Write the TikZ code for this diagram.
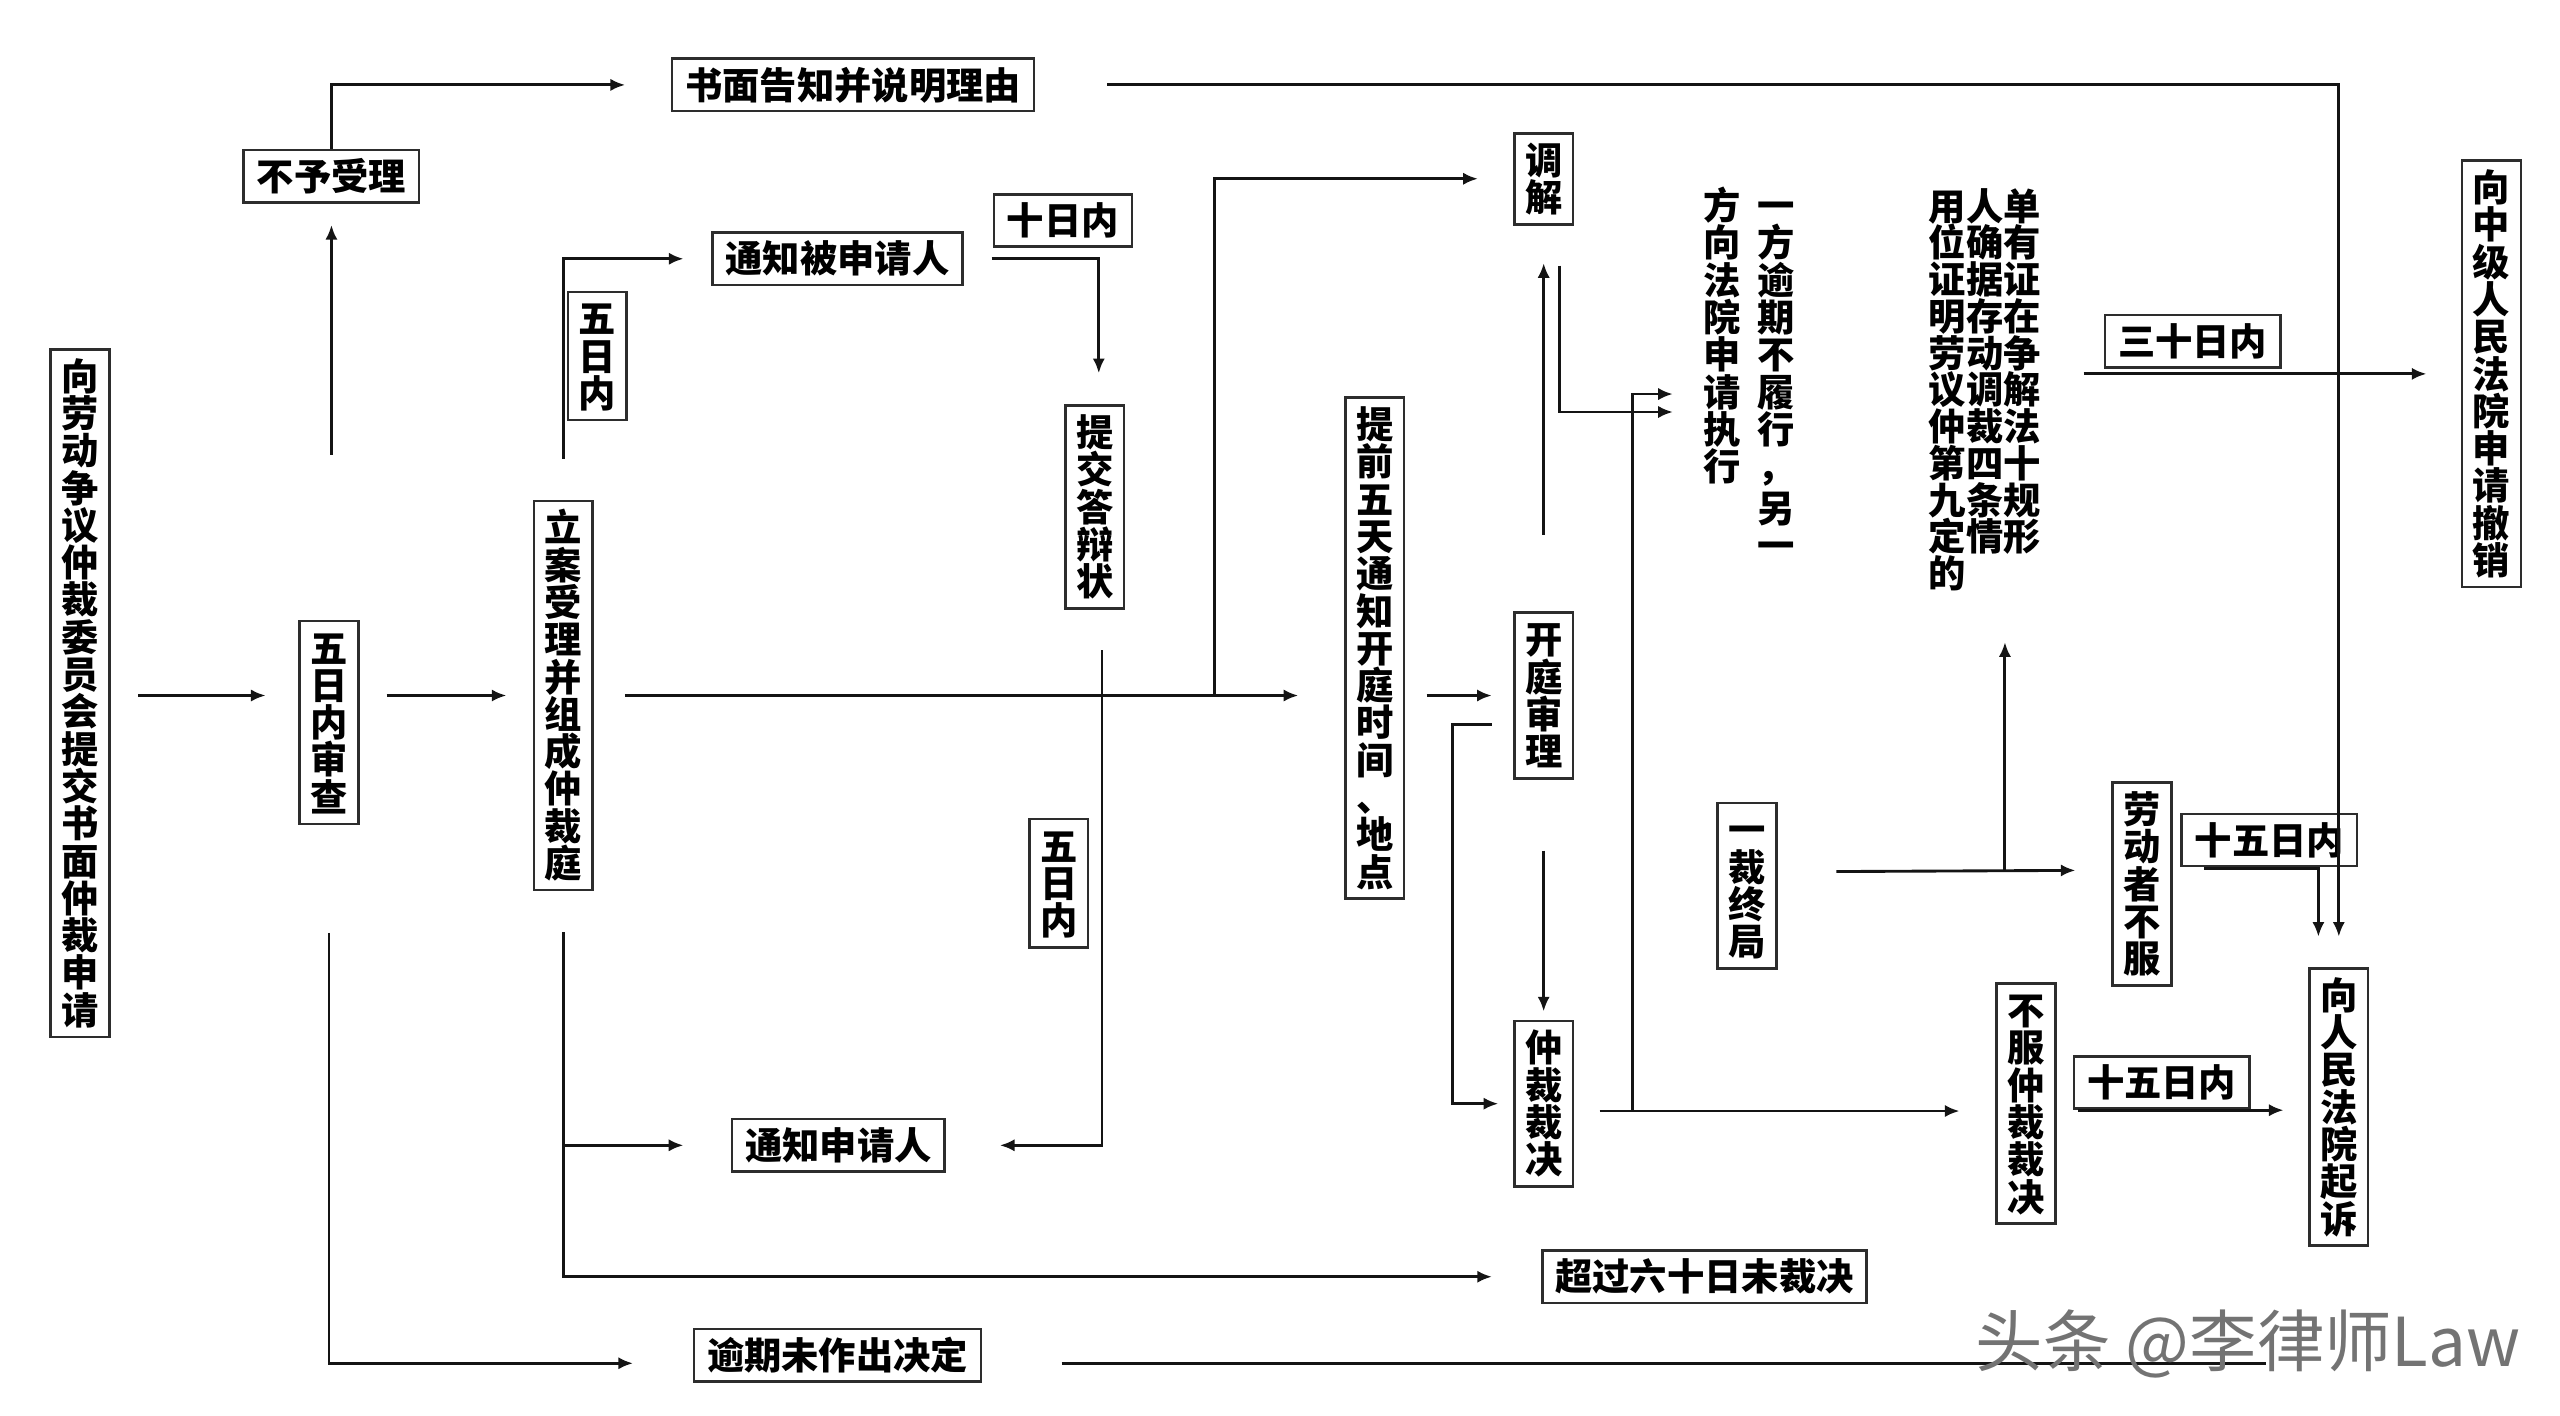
\documentclass[tikz,border=0pt]{standalone}
\usepackage{fontspec}
\setmainfont{Noto Sans CJK SC}
\usetikzlibrary{arrows.meta, positioning}
\definecolor{Encre}{RGB}{20,20,20}
\definecolor{Cadre}{RGB}{45,45,45}
\newcommand\cjkstrut{\rule[-0.12em]{0pt}{1em}}
\newcommand\shu[1]{\shuA#1\relax}
\def\shuA#1{\ifx\relax#1\else\cjkstrut#1\par\expandafter\shuA\fi}
\tikzset{kuang/.style={rectangle, draw=Cadre, line width=0.9pt,
  inner xsep=0.16cm, inner ysep=0.09cm, minimum height=0.64cm,
  font=\fontsize{13}{13}\selectfont\bfseries\parindent0pt}}
\tikzset{shukuang/.style={kuang, text width=0.46cm, align=center,
  inner xsep=0.13cm, inner ysep=0.1cm, minimum height=0pt}}
\tikzset{wen/.style={inner sep=0pt, font=\fontsize{13}{13}\selectfont\bfseries\parindent0pt}}
\tikzset{fl/.style={-{Latex[length=1.8mm, width=1.5mm]}, draw=Encre, line width=1pt}}
\tikzset{trait/.style={draw=Encre, line width=1pt}}

\begin{document}
\begin{tikzpicture}
\useasboundingbox (0,0) rectangle (31.36,17.34);
% 申请与受理
\node[shukuang] (shenqing) at (0.98,8.85) {\shu{向劳动争议仲裁委员会提交书面仲裁申请}};
\node[shukuang] (shencha) at (4.03,8.49) {\shu{五日内审查}};
\node[shukuang] (lian) at (6.90,8.82) {\shu{立案受理并组成仲裁庭}};
\node[kuang] (buyu) at (4.06,15.18) {不予受理};
\node[kuang] (gaozhi) at (10.45,16.30) {书面告知并说明理由};
\node[kuang] (tongzhibei) at (10.26,14.17) {通知被申请人};
\node[shukuang, anchor=north west] (wuri) at (6.94,13.78) {\shu{五日内}};
\node[kuang] (shiri) at (13.02,14.64) {十日内};
\node[shukuang] (dabian) at (13.41,11.13) {\shu{提交答辩状}};
\node[shukuang] (wuri2) at (12.97,6.52) {\shu{五日内}};
\node[kuang] (tongzhi) at (10.27,3.31) {通知申请人};
\node[kuang] (yuqi) at (10.26,0.74) {逾期未作出决定};
% 开庭
\node[shukuang] (tiqian) at (16.84,9.40) {\shu{提前五天通知开庭时间、地点}};
\node[shukuang] (tiaojie) at (18.91,15.15) {\shu{调解}};
\node[shukuang] (shenli) at (18.91,8.82) {\shu{开庭审理}};
\node[shukuang] (caijue) at (18.91,3.82) {\shu{仲裁裁决}};
\node[kuang] (chaoguo) at (20.88,1.70) {超过六十日未裁决};
\node[wen, anchor=north] (zhixing) at (21.43,15.06)
  {\parbox[t]{0.46cm}{\centering\shu{方向法院申请执行}}\hspace{0.2cm}%
   \parbox[t]{0.46cm}{\centering\shu{一方逾期不履行，另一}}};
% 裁决之后
\node[shukuang] (yicai) at (21.40,6.49) {\shu{一裁终局}};
\node[wen, anchor=north west, align=left,
  font=\fontsize{13}{12.8}\selectfont\bfseries\lineskiplimit-5pt] (yongren) at (23.62,15.04)
  {用人单\\位确有\\证据证\\明存在\\劳动争\\议调解\\仲裁法\\第四十\\九条规\\定情形\\的};
\node[kuang] (sanshi) at (26.86,13.16) {三十日内};
\node[shukuang] (chexiao) at (30.52,12.76) {\shu{向中级人民法院申请撤销}};
\node[shukuang] (laodongzhe) at (26.24,6.51) {\shu{劳动者不服}};
\node[kuang] (shiwu) at (27.80,7.05) {十五日内};
\node[shukuang] (bufu) at (24.82,3.82) {\shu{不服仲裁裁决}};
\node[kuang] (shiwu2) at (26.48,4.08) {十五日内};
\node[shukuang] (qisu) at (28.65,3.78) {\shu{向人民法院起诉}};
\coordinate (fencha) at (14.88,8.82);
\coordinate (fencha2) at (20.00,3.73);
\coordinate (fencha3) at (24.56,6.67);
\coordinate (yuqifin) at (27.76,0.64);
% 连线
\draw[fl, shorten <=0.34cm, shorten >=0.4cm] (shenqing.east |- lian) -- (shencha.west |- lian);
\draw[fl, shorten <=0.33cm, shorten >=0.32cm] (shencha.east |- lian) -- (lian.west);
\draw[fl, shorten <=2.02cm, shorten >=0.26cm] (buyu.south |- shencha.north) -- (buyu.south);
\draw[fl, shorten >=0.56cm] (buyu.north) |- (gaozhi.west);
\draw[fl, shorten <=0.88cm, shorten >=0.37cm] (gaozhi.east) -| (qisu.north);
\draw[fl, shorten <=0.5cm, shorten >=0.34cm] (lian.north) |- (tongzhibei.west);
\draw[fl, shorten <=0.34cm, shorten >=0.38cm] (tongzhibei.east) -| ([xshift=0.05cm]dabian.north);
\draw[fl, shorten <=0.5cm, shorten >=0.66cm] ([xshift=0.09cm]dabian.south) |- (tongzhi.east);
\draw[fl, shorten <=0.38cm, shorten >=0.56cm] (lian.east) -- (lian.east -| tiqian.west);
\draw[fl, shorten >=0.43cm] (fencha) |- (tiaojie.west);
\draw[fl, shorten <=0.5cm, shorten >=0.6cm] (lian.south) |- (chaoguo.west);
\draw[fl, shorten >=0.58cm] (lian.south |- tongzhi.west) -- (tongzhi.west);
\draw[fl, shorten <=1.32cm, shorten >=0.73cm] (shencha.south) |- ([yshift=-0.1cm]yuqi.west);
\draw[trait, shorten <=0.97cm] ([yshift=-0.1cm]yuqi.east) -- (yuqifin);
\draw[fl, shorten <=0.26cm, shorten >=0.26cm] (tiqian.east |- shenli.west) -- (shenli.west);
\draw[fl, shorten <=0.94cm, shorten >=0.46cm] (shenli.north) -- (tiaojie.south);
\draw[fl, shorten <=0.49cm, shorten >=0.37cm] ([xshift=0.19cm]tiaojie.south) |- ([yshift=-0.45cm]zhixing.west);
\draw[fl, shorten <=0.87cm, shorten >=0.1cm] (shenli.south) -- (caijue.north);
\draw[fl, shorten <=0.26cm, shorten >=0.18cm] ([yshift=-0.35cm]shenli.west) -- ++(-0.74,0) |- (caijue.west);
\draw[fl, shorten <=0.31cm, shorten >=0.44cm] ([yshift=-0.09cm]caijue.east) -- ([yshift=-0.09cm]bufu.west);
\draw[fl, shorten >=0.37cm] (fencha2) |- ([yshift=-0.23cm]zhixing.west);
\draw[fl, shorten <=0.72cm, shorten >=0.44cm] ([yshift=0.17cm]yicai.east) -- ([yshift=0.17cm]laodongzhe.west);
\draw[fl, shorten >=0.62cm] (fencha3) -- (fencha3 |- yongren.south);
\draw[fl, shorten <=0.52cm, shorten >=0.42cm] (chexiao.west -| yongren.east) -- (chexiao.west);
\draw[fl, shorten >=0.37cm] ([shift={(0.38,0.19)}]laodongzhe.east) -| ([xshift=-0.25cm]qisu.north);
\draw[fl, shorten <=0.26cm, shorten >=0.30cm] ([yshift=-0.08cm]bufu.east) -- ([yshift=-0.04cm]qisu.west);
\node[text=black!55, font=\fontsize{23.5}{23.5}\selectfont] (shuiyin) at (27.54,0.88) {头条 @李律师Law};
\end{tikzpicture}
\end{document}
